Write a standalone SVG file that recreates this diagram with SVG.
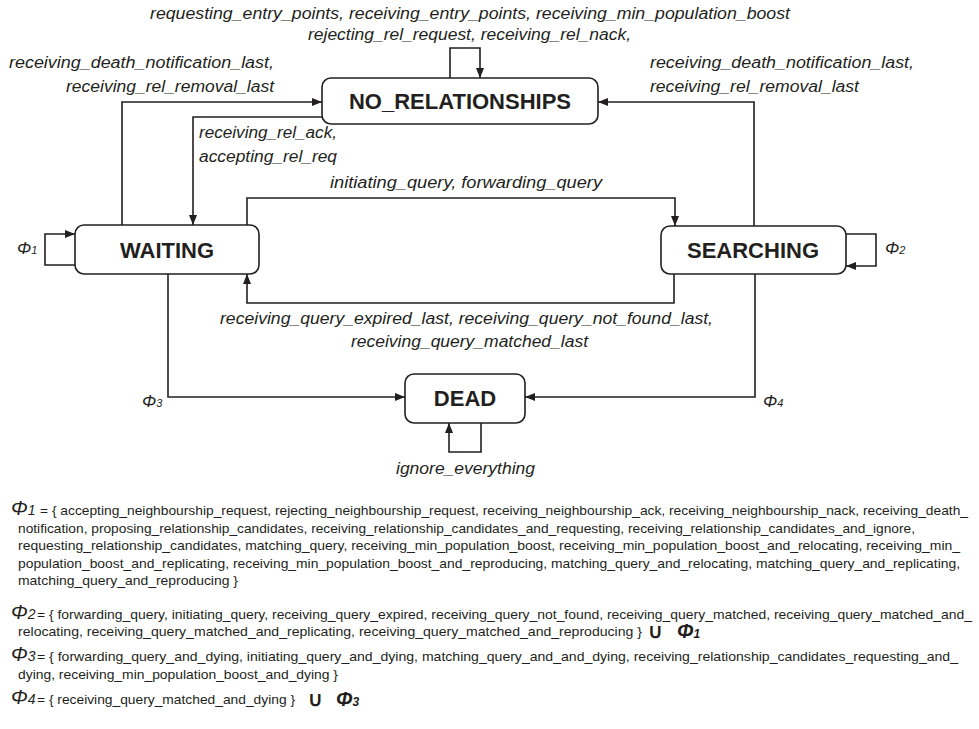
<svg xmlns="http://www.w3.org/2000/svg" width="979" height="729" viewBox="0 0 979 729">
<style>
  .box { fill: #ffffff; stroke: #231f20; stroke-width: 1.6; }
  .state { font-family: "Liberation Sans", Arial, sans-serif; font-weight: bold; font-size: 22px; fill: #231f20; text-anchor: middle; }
  .lbl { font-family: "Liberation Sans", Arial, sans-serif; font-style: italic; font-size: 16px; fill: #231f20; }
  .phi { font-family: "Liberation Sans", Arial, sans-serif; font-style: italic; font-size: 17px; fill: #231f20; }
  .leg { font-family: "Liberation Sans", Arial, sans-serif; font-size: 12.8px; fill: #231f20; }
  .legphi { font-family: "Liberation Sans", Arial, sans-serif; font-style: italic; font-size: 20px; fill: #231f20; }
  .legsub { font-family: "Liberation Sans", Arial, sans-serif; font-size: 14px; fill: #231f20; }
  .union { font-family: "Liberation Sans", Arial, sans-serif; font-weight: bold; font-size: 20px; fill: #231f20; }
  .conn { fill: none; stroke: #231f20; stroke-width: 1.6; marker-end: url(#arr); }
</style>
<defs>
  <marker id="arr" markerUnits="userSpaceOnUse" markerWidth="11" markerHeight="8" refX="10" refY="4" orient="auto">
    <path d="M0,0 L10,4 L0,8 z" fill="#231f20"/>
  </marker>
</defs>
<rect width="979" height="729" fill="#ffffff"/>

<g id="connectors">
  <path class="conn" d="M450,78 V48 H480 V78"/>
  <path class="conn" d="M122,225 V102 H322"/>
  <path class="conn" d="M754,226 V102 H598"/>
  <path class="conn" d="M324,117 H193 V225"/>
  <path class="conn" d="M247,225 V198 H675 V226"/>
  <path class="conn" d="M674,274 V303 H247 V274"/>
  <path class="conn" d="M168,274 V397 H405"/>
  <path class="conn" d="M755,274 V397 H525"/>
  <path class="conn" d="M75,265 H45 V234 H75"/>
  <path class="conn" d="M846,234 H876 V266 H846"/>
  <path class="conn" d="M481,423 V452 H449 V423"/>
</g>

<g id="labels">
  <text class="lbl" x="150" y="19" textLength="640" lengthAdjust="spacingAndGlyphs">requesting_entry_points, receiving_entry_points, receiving_min_population_boost</text>
  <text class="lbl" x="308" y="40" textLength="323" lengthAdjust="spacingAndGlyphs">rejecting_rel_request, receiving_rel_nack,</text>
  <text class="lbl" x="9" y="68" textLength="265" lengthAdjust="spacingAndGlyphs">receiving_death_notification_last,</text>
  <text class="lbl" x="66" y="92" textLength="208" lengthAdjust="spacingAndGlyphs">receiving_rel_removal_last</text>
  <text class="lbl" x="650" y="68" textLength="264" lengthAdjust="spacingAndGlyphs">receiving_death_notification_last,</text>
  <text class="lbl" x="650" y="92" textLength="209" lengthAdjust="spacingAndGlyphs">receiving_rel_removal_last</text>
  <text class="lbl" x="199" y="138" textLength="138" lengthAdjust="spacingAndGlyphs">receiving_rel_ack,</text>
  <text class="lbl" x="199" y="162" textLength="138" lengthAdjust="spacingAndGlyphs">accepting_rel_req</text>
  <text class="lbl" x="330" y="188" textLength="272" lengthAdjust="spacingAndGlyphs">initiating_query, forwarding_query</text>
  <text class="lbl" x="220" y="324" textLength="493" lengthAdjust="spacingAndGlyphs">receiving_query_expired_last, receiving_query_not_found_last,</text>
  <text class="lbl" x="351" y="347" textLength="237" lengthAdjust="spacingAndGlyphs">receiving_query_matched_last</text>
  <text class="lbl" x="396" y="474" textLength="139" lengthAdjust="spacingAndGlyphs">ignore_everything</text>
  <text class="phi" x="17" y="254">Φ<tspan font-size="11">1</tspan></text>
  <text class="phi" x="885" y="254">Φ<tspan font-size="11">2</tspan></text>
  <text class="phi" x="142" y="407">Φ<tspan font-size="11">3</tspan></text>
  <text class="phi" x="763" y="407">Φ<tspan font-size="11">4</tspan></text>
</g>

<g id="NO_RELATIONSHIPS">
  <rect class="box" x="322" y="78" width="276" height="46" rx="9"/>
  <text class="state" x="460" y="109">NO_RELATIONSHIPS</text>
</g>
<g id="WAITING">
  <rect class="box" x="75" y="225" width="184" height="49" rx="9"/>
  <text class="state" x="167" y="258">WAITING</text>
</g>
<g id="SEARCHING">
  <rect class="box" x="661" y="226" width="185" height="48" rx="9"/>
  <text class="state" x="753" y="258">SEARCHING</text>
</g>
<g id="DEAD">
  <rect class="box" x="405" y="374" width="120" height="49" rx="9"/>
  <text class="state" x="465" y="406">DEAD</text>
</g>

<g id="legend">
  <text class="legphi" x="11" y="515">Φ<tspan font-size="14">1</tspan></text>
  <text class="leg" x="40" y="515" textLength="928" lengthAdjust="spacingAndGlyphs">= { accepting_neighbourship_request, rejecting_neighbourship_request, receiving_neighbourship_ack, receiving_neighbourship_nack, receiving_death_</text>
  <text class="leg" x="18" y="533" textLength="897" lengthAdjust="spacingAndGlyphs">notification, proposing_relationship_candidates, receiving_relationship_candidates_and_requesting, receiving_relationship_candidates_and_ignore,</text>
  <text class="leg" x="18" y="550" textLength="942" lengthAdjust="spacingAndGlyphs">requesting_relationship_candidates, matching_query, receiving_min_population_boost, receiving_min_population_boost_and_relocating, receiving_min_</text>
  <text class="leg" x="18" y="568" textLength="942" lengthAdjust="spacingAndGlyphs">population_boost_and_replicating, receiving_min_population_boost_and_reproducing, matching_query_and_relocating, matching_query_and_replicating,</text>
  <text class="leg" x="18" y="585" textLength="220" lengthAdjust="spacingAndGlyphs">matching_query_and_reproducing }</text>

  <text class="legphi" x="11" y="619">Φ<tspan class="legsub">2</tspan></text>
  <text class="leg" x="37" y="619" textLength="935" lengthAdjust="spacingAndGlyphs">= { forwarding_query, initiating_query, receiving_query_expired, receiving_query_not_found, receiving_query_matched, receiving_query_matched_and_</text>
  <text class="leg" x="18" y="636" textLength="624" lengthAdjust="spacingAndGlyphs">relocating, receiving_query_matched_and_replicating, receiving_query_matched_and_reproducing }</text>
  <text class="union" x="648" y="638">∪</text>
  <text class="legphi" x="677" y="638" font-weight="bold" font-size="17">Φ<tspan font-size="12">1</tspan></text>

  <text class="legphi" x="11" y="661">Φ<tspan class="legsub">3</tspan></text>
  <text class="leg" x="37" y="661" textLength="921" lengthAdjust="spacingAndGlyphs">= { forwarding_query_and_dying, initiating_query_and_dying, matching_query_and_and_dying, receiving_relationship_candidates_requesting_and_</text>
  <text class="leg" x="18" y="679" textLength="320" lengthAdjust="spacingAndGlyphs">dying, receiving_min_population_boost_and_dying }</text>

  <text class="legphi" x="11" y="704">Φ<tspan class="legsub">4</tspan></text>
  <text class="leg" x="37" y="704" textLength="258" lengthAdjust="spacingAndGlyphs">= { receiving_query_matched_and_dying }</text>
  <text class="union" x="308" y="706">∪</text>
  <text class="legphi" x="336" y="706" font-weight="bold" font-size="17">Φ<tspan font-size="12">3</tspan></text>
</g>
</svg>
